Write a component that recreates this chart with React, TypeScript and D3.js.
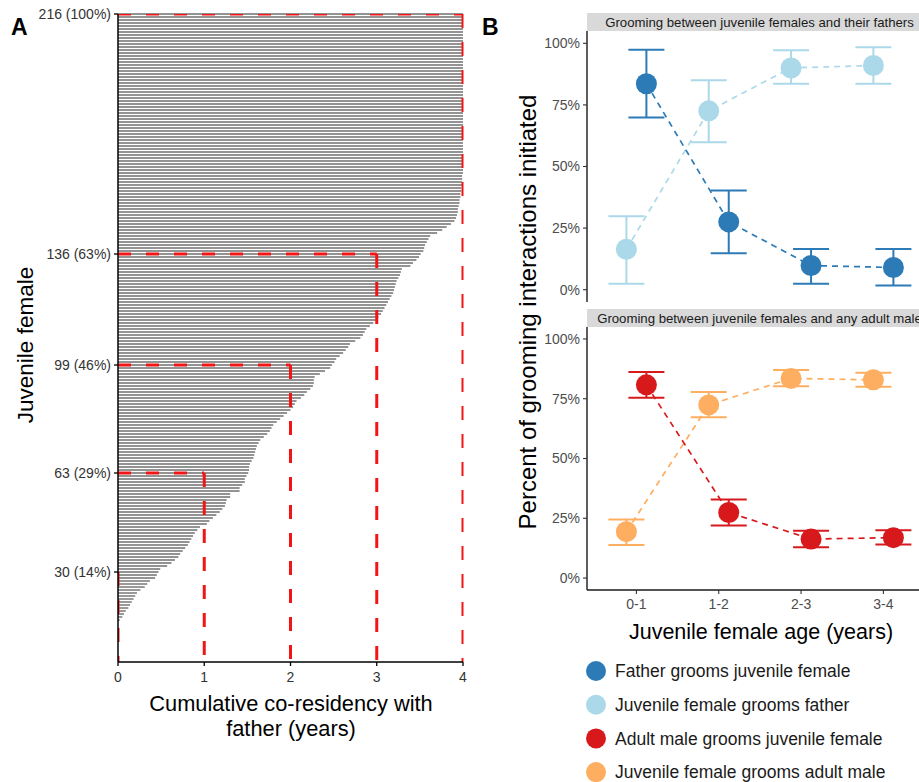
import * as d3 from "d3";

// ---- Panel A data (one value per juvenile female, sorted, bottom to top) ----
const coResidency = [
  0, 0, 0, 0, 0, 0, 0, 0, 0, 0, 0, 0, 0, 0.02, 0.05, 0.07, 0.09, 0.12, 0.14, 0.16,
  0.18, 0.2, 0.22, 0.26, 0.31, 0.34, 0.37, 0.43, 0.45, 0.47, 0.49, 0.57, 0.62, 0.66, 0.7, 0.72, 0.75, 0.78, 0.81, 0.83,
  0.85, 0.87, 0.89, 0.92, 0.95, 1.03, 1.06, 1.1, 1.14, 1.18, 1.21, 1.24, 1.25, 1.26, 1.3, 1.3, 1.41, 1.41, 1.44, 1.47,
  1.47, 1.49, 1.51, 1.52, 1.52, 1.53, 1.55, 1.57, 1.58, 1.59, 1.6, 1.61, 1.63, 1.65, 1.69, 1.73, 1.76, 1.78, 1.8, 1.84,
  1.88, 1.92, 1.96, 2.0, 2.03, 2.05, 2.07, 2.12, 2.16, 2.19, 2.23, 2.26, 2.27, 2.27, 2.28, 2.34, 2.4, 2.46, 2.48, 2.51,
  2.53, 2.57, 2.61, 2.64, 2.67, 2.69, 2.75, 2.81, 2.84, 2.86, 2.88, 2.92, 2.96, 2.99, 3.02, 3.05, 3.07, 3.09, 3.11, 3.13,
  3.15, 3.17, 3.19, 3.2, 3.21, 3.22, 3.23, 3.25, 3.27, 3.28, 3.29, 3.39, 3.42, 3.46, 3.49, 3.51, 3.54, 3.55, 3.56, 3.58,
  3.6, 3.62, 3.7, 3.76, 3.81, 3.86, 3.9, 3.92, 3.93, 3.94, 3.94, 3.95, 3.96, 3.96, 3.97, 3.97, 3.98, 3.98, 3.99, 3.99,
  3.99, 3.99, 4, 4, 4, 4, 4, 4, 4, 4, 4, 4, 4, 4, 4, 4, 4, 4, 4, 4,
  4, 4, 4, 4, 4, 4, 4, 4, 4, 4, 4, 4, 4, 4, 4, 4, 4, 4, 4, 4,
  4, 4, 4, 4, 4, 4, 4, 4, 4, 4, 4, 4, 4, 4, 4, 4,
];
const femaleTicks = [30, 63, 99, 136, 216];
const femaleTickLabels = ["30 (14%)", "63 (29%)", "99 (46%)", "136 (63%)", "216 (100%)"];
const yearTicks = [0, 1, 2, 3, 4];
const cutoffYears = [0, 1, 2, 3, 4];
const cutoffCounts = [30, 63, 99, 136, 216];

// ---- Panel B data ----
const ageClasses = ["0-1", "1-2", "2-3", "3-4"];
const pctTicks = [0, 25, 50, 75, 100];

const fatherGroomsMean = [83.6, 27.5, 9.8, 9.0];
const fatherGroomsLow = [69.9, 14.8, 2.4, 1.7];
const fatherGroomsHigh = [97.4, 40.3, 16.5, 16.5];

const juvGroomsFatherMean = [16.4, 72.6, 90.0, 91.0];
const juvGroomsFatherLow = [2.4, 59.8, 83.6, 83.6];
const juvGroomsFatherHigh = [29.8, 85.0, 97.2, 98.4];

const maleGroomsMean = [80.8, 27.4, 16.3, 16.9];
const maleGroomsLow = [75.4, 22.0, 12.9, 14.0];
const maleGroomsHigh = [86.2, 32.8, 19.8, 20.0];

const juvGroomsMaleMean = [19.4, 72.4, 83.5, 82.9];
const juvGroomsMaleLow = [13.8, 67.3, 80.2, 80.0];
const juvGroomsMaleHigh = [24.5, 77.8, 87.0, 85.9];

const legendLabels = [
  "Father grooms juvenile female",
  "Juvenile female grooms father",
  "Adult male grooms juvenile female",
  "Juvenile female grooms adult male",
];
const colors = ["#2c7bb6", "#abd9e9", "#d7191c", "#fdae61"];

const FONT = "'Liberation Sans', Arial, sans-serif";

type Series = { mean: number[]; low: number[]; high: number[]; color: string; dodge: number };

const topSeries: Series[] = [
  { mean: juvGroomsFatherMean, low: juvGroomsFatherLow, high: juvGroomsFatherHigh, color: colors[1], dodge: -10 },
  { mean: fatherGroomsMean, low: fatherGroomsLow, high: fatherGroomsHigh, color: colors[0], dodge: 10 },
];
const bottomSeries: Series[] = [
  { mean: juvGroomsMaleMean, low: juvGroomsMaleLow, high: juvGroomsMaleHigh, color: colors[3], dodge: -10 },
  { mean: maleGroomsMean, low: maleGroomsLow, high: maleGroomsHigh, color: colors[2], dodge: 10 },
];

function Facet({ top, bottom, strip, series, x, showX }: {
  top: number; bottom: number; strip: string; series: Series[];
  x: d3.ScalePoint<string>; showX: boolean;
}) {
  const left = 587;
  const right = 932;
  // panel spans 100% + 0% with 5% expansion each side
  const y = d3.scaleLinear().domain([-5, 105]).range([bottom, top]);
  const line = d3.line<[number, number]>().x((d) => d[0]).y((d) => d[1]);
  return (
    <g>
      <rect x={left} y={top - 18} width={right - left} height={18} fill="#d9d9d9" />
      <text x={(left + right) / 2} y={top - 4.5} textAnchor="middle" fontSize={13.2} fill="#1a1a1a" fontFamily={FONT}>
        {strip}
      </text>
      {series.map((s, i) => (
        <path
          key={"l" + i}
          d={line(ageClasses.map((a, j) => [x(a)! + s.dodge, y(s.mean[j])])) || ""}
          fill="none"
          stroke={s.color}
          strokeWidth={1.7}
          strokeDasharray="6,5"
        />
      ))}
      {series.map((s, i) => (
        <g key={"e" + i}>
          {ageClasses.map((a, j) => {
            const cx = x(a)! + s.dodge;
            return (
              <g key={a} stroke={s.color} strokeWidth={2}>
                <line x1={cx} x2={cx} y1={y(s.low[j])} y2={y(s.high[j])} />
                <line x1={cx - 18} x2={cx + 18} y1={y(s.low[j])} y2={y(s.low[j])} />
                <line x1={cx - 18} x2={cx + 18} y1={y(s.high[j])} y2={y(s.high[j])} />
              </g>
            );
          })}
          {ageClasses.map((a, j) => (
            <circle key={"p" + a} cx={x(a)! + s.dodge} cy={y(s.mean[j])} r={10.5} fill={s.color} />
          ))}
        </g>
      ))}
      <line x1={left} x2={left} y1={top} y2={bottom} stroke="#1a1a1a" strokeWidth={1.4} />
      {pctTicks.map((t) => (
        <g key={t}>
          <line x1={left - 4} x2={left} y1={y(t)} y2={y(t)} stroke="#333" strokeWidth={1.1} />
          <text x={left - 7} y={y(t)} dy="0.35em" textAnchor="end" fontSize={14} fill="#4d4d4d" fontFamily={FONT}>
            {t + "%"}
          </text>
        </g>
      ))}
      {showX && (
        <g>
          <line x1={left} x2={right} y1={bottom} y2={bottom} stroke="#1a1a1a" strokeWidth={1.4} />
          {ageClasses.map((a) => (
            <g key={a}>
              <line x1={x(a)!} x2={x(a)!} y1={bottom} y2={bottom + 4} stroke="#333" strokeWidth={1.1} />
              <text x={x(a)!} y={bottom + 19} textAnchor="middle" fontSize={14} fill="#4d4d4d" fontFamily={FONT}>
                {a}
              </text>
            </g>
          ))}
        </g>
      )}
    </g>
  );
}

export default function App() {
  // Panel A scales
  const xA = d3.scaleLinear().domain([0, 4]).range([118, 463]);
  const yA = d3.scaleLinear().domain([0, 216]).range([662, 14]);

  // Panel B scale
  const xB = d3.scalePoint<string>().domain(ageClasses).range([636.4, 883.4]);

  return (
    <svg width={919} height={782} style={{ position: "absolute", left: 0, top: 0, background: "#fff" }}>
      <defs>
        <clipPath id="clipA">
          <rect x={118} y={14} width={345.5} height={648} />
        </clipPath>
      </defs>

      {/* ---- Panel A ---- */}
      <text x={11} y={35} fontSize={23} fontWeight="bold" fontFamily={FONT} fill="#000">A</text>
      <g>
        {coResidency.map((v, i) =>
          v > 0 ? (
            <line key={i} x1={xA(0)} x2={xA(v)} y1={yA(i + 1)} y2={yA(i + 1)} stroke="#6f6f6f" strokeWidth={1.4} />
          ) : null
        )}
      </g>
      <g clipPath="url(#clipA)" stroke="#f21515" strokeWidth={3} fill="none">
        {cutoffYears.map((yr, i) => (
          <g key={yr}>
            {yr > 0 && (
              <line x1={xA(0)} x2={xA(yr)} y1={yA(cutoffCounts[i])} y2={yA(cutoffCounts[i])} strokeDasharray="13,15" />
            )}
            <line x1={xA(yr)} x2={xA(yr)} y1={yA(cutoffCounts[i])} y2={yA(0)} strokeDasharray="14,14" />
          </g>
        ))}
      </g>
      <line x1={xA(0)} x2={xA(0)} y1={yA(216)} y2={yA(0)} stroke="#000" strokeWidth={1.5} />
      <line x1={xA(0)} x2={xA(4)} y1={yA(0)} y2={yA(0)} stroke="#000" strokeWidth={1.5} />
      {femaleTicks.map((t, i) => (
        <g key={t}>
          <line x1={xA(0) - 4} x2={xA(0)} y1={yA(t)} y2={yA(t)} stroke="#000" strokeWidth={1.3} />
          <text x={xA(0) - 7} y={yA(t)} dy="0.35em" textAnchor="end" fontSize={14} fill="#333" fontFamily={FONT}>
            {femaleTickLabels[i]}
          </text>
        </g>
      ))}
      {yearTicks.map((t) => (
        <g key={t}>
          <line x1={xA(t)} x2={xA(t)} y1={yA(0)} y2={yA(0) + 4} stroke="#000" strokeWidth={1.3} />
          <text x={xA(t)} y={yA(0) + 20} textAnchor="middle" fontSize={14} fill="#333" fontFamily={FONT}>
            {t}
          </text>
        </g>
      ))}
      <text x={291} y={711} textAnchor="middle" fontSize={21.8} fill="#000" fontFamily={FONT}>
        Cumulative co-residency with
      </text>
      <text x={291} y={736} textAnchor="middle" fontSize={21.8} fill="#000" fontFamily={FONT}>
        father (years)
      </text>
      <text
        transform="translate(33,345) rotate(-90)"
        textAnchor="middle"
        fontSize={22.5}
        fill="#000"
        fontFamily={FONT}
      >
        Juvenile female
      </text>

      {/* ---- Panel B ---- */}
      <text x={482} y={35} fontSize={23} fontWeight="bold" fontFamily={FONT} fill="#000">B</text>
      <Facet top={31} bottom={302} strip="Grooming between juvenile females and their fathers" series={topSeries} x={xB} showX={false} />
      <Facet top={327} bottom={590} strip="Grooming between juvenile females and any adult male" series={bottomSeries} x={xB} showX={true} />
      <text
        transform="translate(536,312) rotate(-90)"
        textAnchor="middle"
        fontSize={24}
        fill="#000"
        fontFamily={FONT}
      >
        Percent of grooming interactions initiated
      </text>
      <text x={761} y={639} textAnchor="middle" fontSize={21.5} fill="#000" fontFamily={FONT}>
        Juvenile female age (years)
      </text>

      {/* legend */}
      {legendLabels.map((lab, i) => (
        <g key={lab} transform={`translate(0,${671 + i * 33.7})`}>
          <circle cx={596} cy={0} r={10} fill={colors[i]} />
          <text x={615} y={0} dy="0.35em" fontSize={17.5} fill="#1a1a1a" fontFamily={FONT}>
            {lab}
          </text>
        </g>
      ))}
    </svg>
  );
}
